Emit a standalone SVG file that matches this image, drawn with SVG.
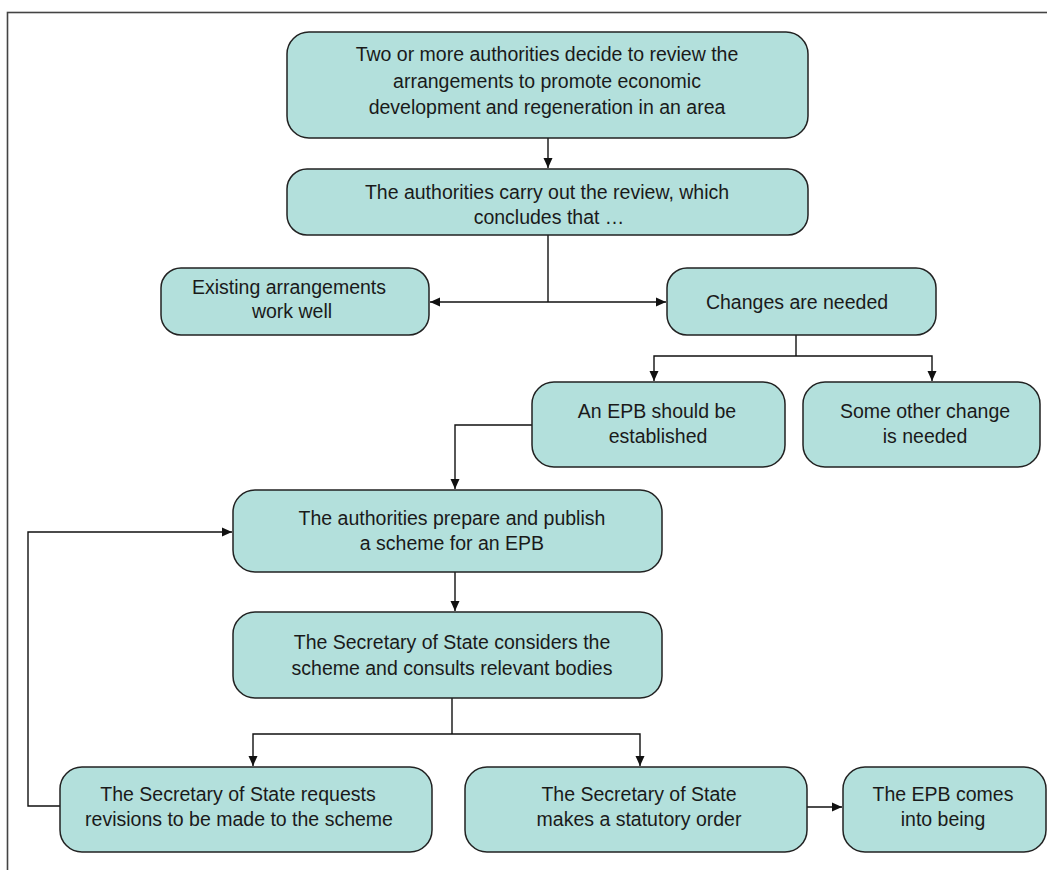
<svg xmlns="http://www.w3.org/2000/svg" width="1047" height="870" viewBox="0 0 1047 870">
<defs>
<style>
.box{fill:#b3e0dc;stroke:#222;stroke-width:1.5}
.t{font-family:"Liberation Sans",Arial,sans-serif;font-size:19.5px;fill:#1a1a1a;text-anchor:middle}
.c{fill:none;stroke:#111;stroke-width:1.4}
</style>
<marker id="ah" viewBox="0 0 10 10" refX="10" refY="5" markerWidth="10" markerHeight="10" markerUnits="userSpaceOnUse" orient="auto-start-reverse">
<path d="M0,0.5 L10,5 L0,9.5 Z" fill="#111"/>
</marker>
</defs>
<rect x="7.5" y="12.5" width="1060" height="880" fill="#fff" stroke="#444" stroke-width="1.6"/>
<g id="connectors">
<line class="c" x1="548" y1="138" x2="548" y2="168" marker-end="url(#ah)"/>
<line class="c" x1="548" y1="235" x2="548" y2="302"/>
<line class="c" x1="430" y1="302" x2="666" y2="302" marker-start="url(#ah)" marker-end="url(#ah)"/>
<polyline class="c" points="796,335 796,356"/>
<polyline class="c" points="654,381 654,356 932,356 932,381" marker-start="url(#ah)" marker-end="url(#ah)"/>
<polyline class="c" points="532,425 455,425 455,489" marker-end="url(#ah)"/>
<line class="c" x1="455" y1="572" x2="455" y2="611" marker-end="url(#ah)"/>
<line class="c" x1="452" y1="698" x2="452" y2="734"/>
<polyline class="c" points="253,766 253,734 640,734 640,766" marker-start="url(#ah)" marker-end="url(#ah)"/>
<polyline class="c" points="60,806 28,806 28,532 232,532" marker-end="url(#ah)"/>
<line class="c" x1="807" y1="807" x2="842" y2="807" marker-end="url(#ah)"/>
</g>
<g id="n1"><rect class="box" x="287" y="32" width="521" height="106" rx="22"/>
<text class="t" x="547" y="61">Two or more authorities decide to review the</text>
<text class="t" x="547" y="87.5">arrangements to promote economic</text>
<text class="t" x="547" y="114">development and regeneration in an area</text></g>
<g id="n2"><rect class="box" x="287" y="169" width="521" height="66" rx="20"/>
<text class="t" x="547" y="199">The authorities carry out the review, which</text>
<text class="t" x="549" y="224">concludes that …</text></g>
<g id="n3"><rect class="box" x="161" y="268" width="268" height="67" rx="20"/>
<text class="t" x="289" y="294">Existing arrangements</text>
<text class="t" x="292" y="318">work well</text></g>
<g id="n4"><rect class="box" x="667" y="268" width="269" height="67" rx="20"/>
<text class="t" x="797" y="309">Changes are needed</text></g>
<g id="n5"><rect class="box" x="532" y="382" width="253" height="85" rx="22"/>
<text class="t" x="657" y="418">An EPB should be</text>
<text class="t" x="658" y="443">established</text></g>
<g id="n6"><rect class="box" x="803" y="382" width="237" height="85" rx="22"/>
<text class="t" x="925" y="418">Some other change</text>
<text class="t" x="925" y="443">is needed</text></g>
<g id="n7"><rect class="box" x="233" y="490" width="429" height="82" rx="22"/>
<text class="t" x="452" y="525">The authorities prepare and publish</text>
<text class="t" x="452" y="550">a scheme for an EPB</text></g>
<g id="n8"><rect class="box" x="233" y="612" width="429" height="86" rx="22"/>
<text class="t" x="452" y="649">The Secretary of State considers the</text>
<text class="t" x="452" y="675">scheme and consults relevant bodies</text></g>
<g id="n9"><rect class="box" x="60" y="767" width="372" height="85" rx="22"/>
<text class="t" x="238" y="801">The Secretary of State requests</text>
<text class="t" x="239" y="826">revisions to be made to the scheme</text></g>
<g id="n10"><rect class="box" x="465" y="767" width="342" height="85" rx="22"/>
<text class="t" x="639" y="801">The Secretary of State</text>
<text class="t" x="639" y="826">makes a statutory order</text></g>
<g id="n11"><rect class="box" x="843" y="767" width="203" height="85" rx="22"/>
<text class="t" x="943" y="801">The EPB comes</text>
<text class="t" x="943" y="826">into being</text></g>
</svg>
